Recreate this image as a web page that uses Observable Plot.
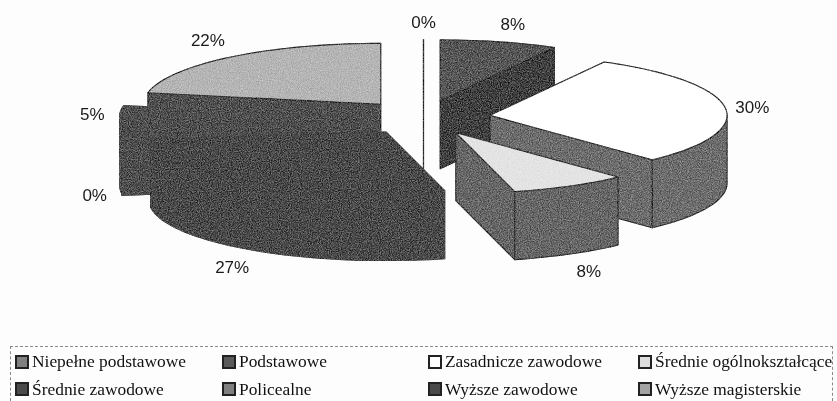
<!DOCTYPE html>
<html><head><meta charset="utf-8">
<script src="https://cdn.jsdelivr.net/npm/d3@7"></script>
<script src="https://cdn.jsdelivr.net/npm/@observablehq/plot@0.6"></script>
<style>
html,body{margin:0;padding:0;background:#fdfdfd;overflow:hidden}
#wrap{width:837px;height:401px;filter:blur(.35px)}
svg{display:block}
#legend{box-sizing:border-box;position:relative;margin-left:10px;width:823px;height:55px;border:1px dashed #8a8a8a;border-bottom:none;
 display:grid;grid-template-columns:207px 206px 210px 200px;grid-template-rows:29px 26px;padding-left:4px;
 font-family:"Liberation Serif",serif;font-size:17.4px;color:#111;align-items:center}
#legend div{display:flex;align-items:center;white-space:nowrap}
#legend i{display:inline-block;box-sizing:border-box;width:14px;height:14px;border:2px solid #222;margin-right:3px;flex:none}
</style></head><body><div id="wrap"></div>
<script>
const categories=["Niepełne podstawowe","Podstawowe","Zasadnicze zawodowe","Średnie ogólnokształcące","Średnie zawodowe","Policealne","Wyższe zawodowe","Wyższe magisterskie"];
const shares=[0,8,30,8,27,0,5,22];
const topFills=["#6f6f6f","#2c2c2c","#ffffff","#dcdcdc","#1c1c1c","#242424","#242424","#a2a2a2"];
const wallFills=["#555555","#101010","#484848","#404040","#1c1c1c","#222222","#2c2c2c","#242424"];
const edgeInks=["#000000","#000000","#000000","#000000","#181818","#1e1e1e","#1e1e1e","#000000"];
const legendFills=["#808080","#5a5a5a","#ffffff","#dddddd","#4a4a4a","#808080","#4a4a4a","#a4a4a4"];

const EXPLODE=.283,TILT=.257,DEPTH=.287;
const rad=d=>d*Math.PI/180;
let acc=0;
const slices=shares.map((v,i)=>{const a0=acc*3.6;acc+=v;const a1=acc*3.6,m=(a0+a1)/2;
  return {i,v,a0,a1,m,ax:EXPLODE*Math.sin(rad(m)),ay:EXPLODE*TILT*Math.cos(rad(m))};});
const rim=(s,t)=>[s.ax+Math.sin(rad(t)),s.ay+TILT*Math.cos(rad(t))];
const arc=(s,a,b)=>{const n=Math.max(1,Math.ceil((b-a)/2));return d3.range(n+1).map(k=>rim(s,a+(b-a)*k/n));};
const rows=[];let id=0;
function poly(pts,fill,stroke){id++;[...pts,pts[0]].forEach(([x,y])=>rows.push({id,x,y,fill,stroke}));}
function radialWall(s,t,fill){const c=[s.ax,s.ay],r=rim(s,t);
  poly([c,r,[r[0],r[1]-DEPTH],[c[0],c[1]-DEPTH]],fill,edgeInks[s.i]);}
[...slices].sort((p,q)=>Math.cos(rad(q.m))-Math.cos(rad(p.m))).forEach(s=>{
  const wall=wallFills[s.i];
  if(s.v===0||Math.sin(rad(s.a0))<-1e-9) radialWall(s,s.a0,wall);
  if(s.v===0||Math.sin(rad(s.a1))>1e-9) radialWall(s,s.a1,wall);
  const lo=Math.max(s.a0,90),hi=Math.min(s.a1,270);
  if(hi>lo){const up=arc(s,lo,hi);poly([...up,...[...up].reverse().map(([x,y])=>[x,y-DEPTH])],wall,edgeInks[s.i]);}
  poly([[s.ax,s.ay],...arc(s,s.a0,s.a1)],topFills[s.i],edgeInks[s.i]);
});
const labels=slices.map(s=>{const sn=Math.sin(rad(s.m)),cs=Math.cos(rad(s.m));
  return {text:s.v+"%",
    x:s.ax+sn+.115*Math.sign(sn)*Math.sqrt(Math.abs(sn)),
    y:s.ay+TILT*cs+.072*Math.sign(cs)*Math.min(1,(1.3*cs)**2)-(cs<0?DEPTH:0)};});

const H=346,U=237;
const plot=Plot.plot({width:837,height:H,margin:0,axis:null,
  x:{domain:[-423/U,414/U],range:[0,837]},
  y:{domain:[117/U,(117-H)/U],range:[0,H]},
  color:{type:"identity"},
  marks:[
    Plot.line(rows,{x:"x",y:"y",z:"id",fill:"fill",stroke:"stroke",strokeWidth:1.1,strokeLinejoin:"round",imageFilter:"url(#grain)"}),
    Plot.text(labels,{x:"x",y:"y",text:"text",fontFamily:"Liberation Sans, Arial, sans-serif",fontSize:17,fill:"#1a1a1a"})
  ]});
plot.style.background="transparent";
const defs=d3.select(plot).insert("defs",":first-child");
defs.html(`<filter id="grain" x="0" y="0" width="100%" height="100%" filterUnits="objectBoundingBox" color-interpolation-filters="sRGB">
<feTurbulence type="fractalNoise" baseFrequency="0.9" numOctaves="2" seed="4" result="n"/>
<feColorMatrix in="n" type="matrix" values="2 0 0 0 -.5  2 0 0 0 -.5  2 0 0 0 -.5  0 0 0 0 1" result="a"/>
<feComposite in="a" in2="SourceAlpha" operator="in" result="g"/>
<feComposite in="SourceGraphic" in2="g" operator="arithmetic" k1="-.4" k2="1" k3=".4" k4="0"/></filter>`);
const wrap=document.getElementById("wrap");wrap.appendChild(plot);
const lg=document.createElement("div");lg.id="legend";
[0,1,2,3,4,5,6,7].forEach(i=>{const d=document.createElement("div");const sw=document.createElement("i");sw.style.background=legendFills[i];d.appendChild(sw);d.appendChild(document.createTextNode(categories[i]));lg.appendChild(d);});
wrap.appendChild(lg);
</script></body></html>
